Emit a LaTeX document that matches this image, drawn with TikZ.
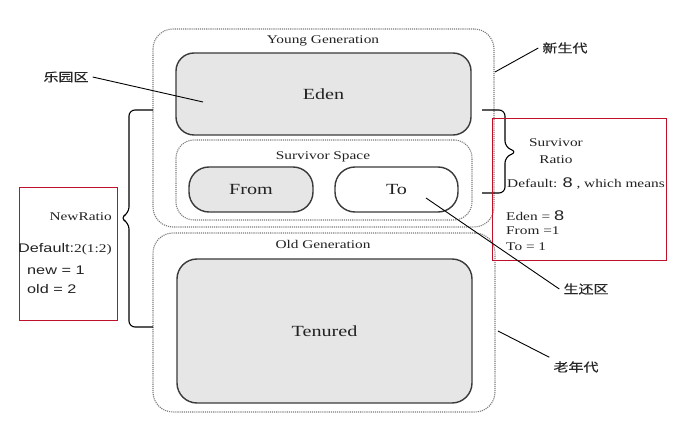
\documentclass[tikz,border=0pt]{standalone}
\usepackage{fontspec}
\setmainfont{Liberation Serif}[FakeStretch=1.3]
\setsansfont{Liberation Sans}[FakeStretch=1.3]
\newfontfamily\cjk{Noto Sans CJK SC}[FakeStretch=1.25,FakeBold=0.4]
\definecolor{boxgray}{HTML}{E6E6E6}
\definecolor{edgegray}{HTML}{3A3A3A}
\definecolor{dotgray}{HTML}{7A7A7A}
\definecolor{notered}{HTML}{C0102A}
\definecolor{txtgray}{HTML}{222222}

\begin{document}
\begin{tikzpicture}[x=1pt,y=-1pt,
        gen/.style={draw=dotgray,densely dotted,line width=1.1pt,rounded corners=20,minimum width=#1},
        space/.style={draw=edgegray,line width=1.4pt,fill=boxgray,rounded corners=18,text=txtgray,
                font=\fontsize{15.5}{18}\selectfont},
        title/.style={text=txtgray,inner sep=0pt,font=\fontsize{11.8}{14}\selectfont},
        notebox/.style={draw=notered,line width=0.9pt},
        note/.style={text=txtgray,inner sep=0pt,font=\fontsize{11.8}{15}\selectfont},
        cn/.style={text=black!85,inner sep=4pt,font=\cjk\fontsize{12}{14}\selectfont},
        bracket/.style={line width=1.1pt,rounded corners=6}]
        \useasboundingbox (0,0) rectangle (681,422);

        \node[gen=341,minimum height=198] (young) at (323.5,128) {};
        \node[gen=342,minimum height=179] (old) at (324,322.5) {};
        \node[title] (younglbl) at (323,41) {Young Generation};
        \node[title] (oldlbl) at (323,244) {Old Generation};

        \node[space,minimum width=295,minimum height=82] (eden) at (323.5,94) {Eden};
        \node[gen=296,minimum height=80,rounded corners=18] (survivor) at (324,180) {};
        \node[title] (survivorlbl) at (323,157) {Survivor Space};
        \node[space,rounded corners=20,minimum width=124,minimum height=45] (from) at (251,189.5) {From};
        \node[space,rounded corners=20,fill=white,minimum width=123,minimum height=45] (to) at (396.5,189.5) {To};
        \node[space,rounded corners=20,minimum width=295,minimum height=144] (tenured) at (324.5,331) {Tenured};

        \draw[bracket] (153,110) -- (129,110) -- (129,213) -- (120,218) -- (129,223) -- (129,327) -- (153,327);
        \draw[bracket] (482,110) -- (505,110) -- (505,147) -- (517,152) -- (505,157) -- (505,193) -- (482,193);

        \node[notebox,minimum width=98,minimum height=133] (nrbox) at (68,253.5) {};
        \node[note,anchor=base east] (newratio) at (112,221) {NewRatio};
        \node[note,anchor=base west] (nrdefault) at (18,253) {{\sffamily\fontsize{12.5}{15}\selectfont Default:}2(1:2)};
        \node[note,anchor=base west,font=\sffamily\fontsize{12.5}{15}\selectfont] (nrnew) at (27,274.5) {new = 1};
        \node[note,anchor=base west,font=\sffamily\fontsize{12.5}{15}\selectfont] (nrold) at (27,293.5) {old = 2};

        \node[notebox,minimum width=174,minimum height=142] (srbox) at (579,189) {};
        \node[note,align=center,font=\fontsize{11.8}{17}\selectfont] (srlbl) at (556,151.5) {Survivor\\Ratio};
        \node[note,anchor=base west] (srdefault) at (507,188) {Default: {\sffamily\fontsize{14}{15}\selectfont 8} , which means};
        \node[note,anchor=base west] (sreden) at (506,221) {Eden = {\sffamily\fontsize{14}{15}\selectfont 8}};
        \node[note,anchor=base west] (srfrom) at (506,235) {From =1};
        \node[note,anchor=base west] (srto) at (506,251) {To = 1};

        \node[cn] (leyuan) at (66,77) {乐园区};
        \node[cn] (xinsheng) at (565,48) {新生代};
        \node[cn] (shenghuan) at (586,289) {生还区};
        \node[cn] (laonian) at (576,367) {老年代};

        \coordinate (edenpt) at (203,102);
        \coordinate (youngpt) at (495,72);
        \coordinate (topt) at (426,198);
        \coordinate (oldpt) at (498,331);
        \draw[line width=0.9pt] (leyuan.east) -- (edenpt);
        \draw[line width=0.9pt] (xinsheng.west) -- (youngpt);
        \draw[line width=0.9pt] (topt) -- (shenghuan.west);
        \draw[line width=0.9pt] (oldpt) -- (laonian.north west);
\end{tikzpicture}
\end{document}
